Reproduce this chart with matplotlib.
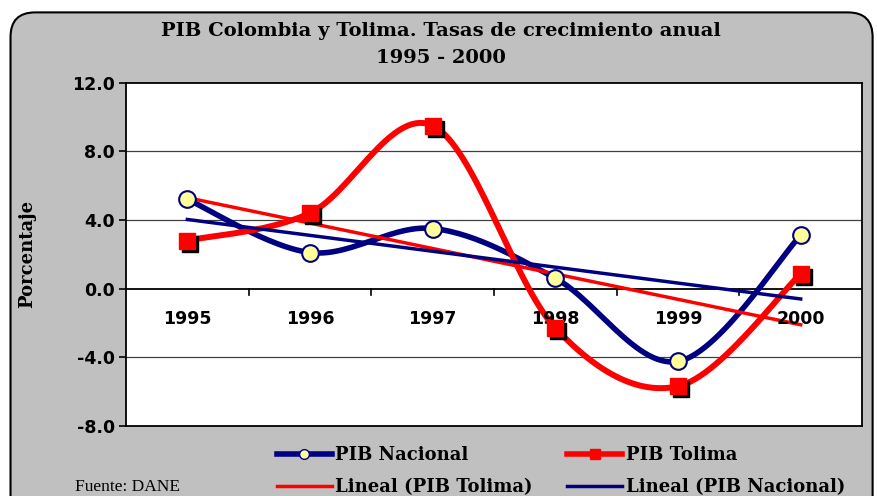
import numpy as np
import matplotlib
matplotlib.use("Agg")
import matplotlib.pyplot as plt
import matplotlib.transforms as mtransforms
from matplotlib.patches import FancyBboxPatch
from matplotlib.lines import Line2D

years = ["1995", "1996", "1997", "1998", "1999", "2000"]
pib_nacional = [5.2, 2.1, 3.5, 0.6, -4.25, 3.1]
pib_tolima = [2.8, 4.4, 9.5, -2.3, -5.7, 0.85]
yticks = [12.0, 8.0, 4.0, 0.0, -4.0, -8.0]

NAVY = "#000080"
RED = "#FF0000"


def excel_smooth(x, y, n=30):
    x = np.asarray(x, float)
    y = np.asarray(y, float)
    P = np.column_stack([x, y])
    out = [P[0]]
    for i in range(len(P) - 1):
        p0 = P[i - 1] if i > 0 else P[i]
        p1 = P[i]
        p2 = P[i + 1]
        p3 = P[i + 2] if i + 2 < len(P) else P[i + 1]
        c1 = p1 + (p2 - p0) / 6.0
        c2 = p2 - (p3 - p1) / 6.0
        t = np.linspace(0, 1, n)[1:, None]
        seg = ((1 - t) ** 3) * p1 + 3 * ((1 - t) ** 2) * t * c1 + 3 * (1 - t) * t ** 2 * c2 + t ** 3 * p2
        out.extend(seg)
    out = np.array(out)
    return out[:, 0], out[:, 1]


fig = plt.figure(figsize=(8.77, 4.96), dpi=100)
fig.patch.set_facecolor("white")

bg = FancyBboxPatch((0.012, -0.1), 0.983, 1.075,
                    boxstyle="round,pad=0,rounding_size=0.028",
                    transform=fig.transFigure, facecolor="#C0C0C0",
                    edgecolor="black", linewidth=1.5, zorder=-10,
                    mutation_aspect=877 / 496)
fig.patches.append(bg)

ax = fig.add_axes([0.1437, 0.1417, 0.8392, 0.6915])
ax.set_zorder(2)
ax.set_facecolor("white")
for s in ax.spines.values():
    s.set_color("black")
    s.set_linewidth(1.3)
ax.spines["bottom"].set_visible(False)

x = np.arange(len(years))
ax.set_xlim(-0.5, len(years) - 0.5)
ax.set_ylim(-8, 12)
ax.set_yticks(yticks)
ax.set_yticklabels([f"{v:.1f}" for v in yticks], fontsize=12.5, fontweight="bold",
                   family="DejaVu Sans")
ax.tick_params(axis="y", length=5, width=1.2, direction="out", pad=3)
ax.set_xticks([])
for v in yticks:
    if v not in (12.0, -8.0, 0.0):
        ax.axhline(v, color="#404040", lw=0.9, zorder=1)
ax.axhline(0, color="black", lw=1.3, zorder=1)
ax.axhline(-8, color="black", lw=1.3, zorder=1, clip_on=False)
for b in np.arange(0.5, len(years) - 0.5, 1.0):
    ax.plot([b, b], [0, -0.35], color="black", lw=1.2, zorder=1)
for xi, lab in zip(x, years):
    ax.text(xi, -1.75, lab, ha="center", va="center", fontsize=12.5,
            fontweight="bold", family="DejaVu Sans", zorder=5)

sx, sy = excel_smooth(x, pib_nacional)
ax.plot(sx, sy, color=NAVY, lw=4, zorder=3, solid_capstyle="round")
tx, ty = excel_smooth(x, pib_tolima)
ax.plot(tx, ty, color=RED, lw=4.3, zorder=3, solid_capstyle="round")

ct = np.polyfit(x, pib_tolima, 1)
cn = np.polyfit(x, pib_nacional, 1)
ax.plot(x, np.polyval(ct, x), color=RED, lw=2.5, zorder=4)
ax.plot(x, np.polyval(cn, x), color=NAVY, lw=2.5, zorder=4)

shadow = ax.transData + mtransforms.ScaledTranslation(3 / 100, -3 / 100, fig.dpi_scale_trans)
ax.plot(x, pib_tolima, ls="none", marker="s", ms=11, mfc="black", mec="black",
        zorder=5, transform=shadow)
ax.plot(x, pib_tolima, ls="none", marker="s", ms=11, mfc=RED, mec=RED, zorder=6)
ax.plot(x, pib_nacional, ls="none", marker="o", ms=12, mfc="#FFFF99", mec=NAVY,
        mew=1.5, zorder=6)

ax.set_ylabel("Porcentaje", fontsize=13, fontweight="bold", family="DejaVu Serif",
              labelpad=26)

fig.text(0.503, 0.938, "PIB Colombia y Tolima. Tasas de crecimiento anual",
         ha="center", va="center", fontsize=14, fontweight="bold", family="DejaVu Serif")
fig.text(0.503, 0.884, "1995 - 2000", ha="center", va="center", fontsize=14,
         fontweight="bold", family="DejaVu Serif")
fig.text(0.085, 0.018, "Fuente: DANE", ha="left", va="center", fontsize=12.5,
         family="Liberation Serif")

handles = [
    Line2D([], [], color=NAVY, lw=4, marker="o", ms=7, mfc="#FFFF99", mec=NAVY),
    Line2D([], [], color=RED, lw=2.5),
    Line2D([], [], color=RED, lw=4, marker="s", ms=7, mfc=RED, mec=RED),
    Line2D([], [], color=NAVY, lw=2.5),
]
labels = ["PIB Nacional", "Lineal (PIB Tolima)", "PIB Tolima", "Lineal (PIB Nacional)"]
leg = fig.legend(handles, labels, ncol=2, loc="center left",
                 bbox_to_anchor=(0.297, 0.05), frameon=False,
                 prop={"family": "DejaVu Serif", "weight": "bold", "size": 13},
                 handlelength=3.05, handletextpad=0.2, columnspacing=1.9,
                 labelspacing=0.75)

fig.savefig("out.png", dpi=100, facecolor="white")
